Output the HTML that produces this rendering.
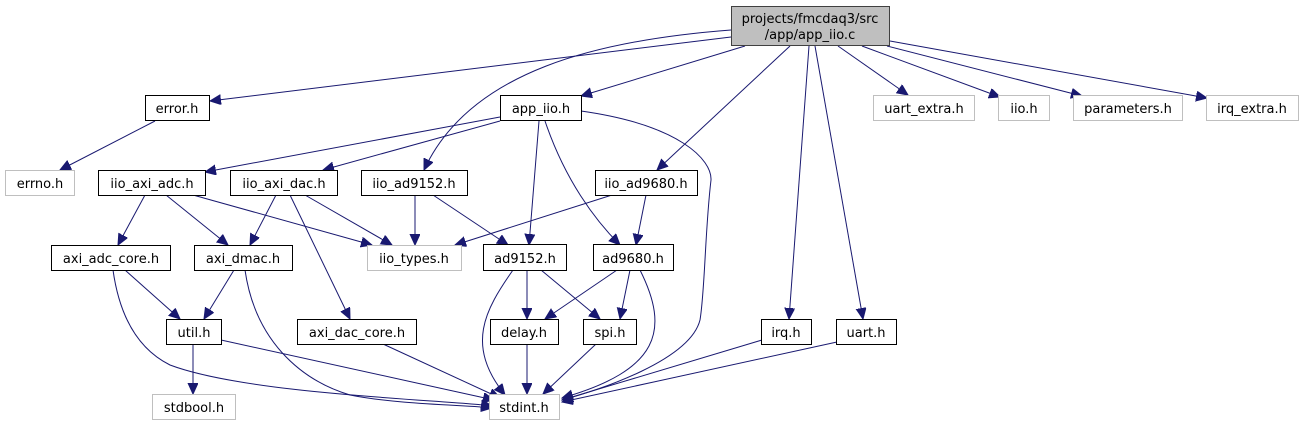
<!DOCTYPE html>
<html><head><meta charset="utf-8"><style>
html,body{margin:0;padding:0;background:#fff;}
svg{display:block;}
text{font-family:"DejaVu Sans","Liberation Sans",sans-serif;font-size:13px;text-anchor:middle;fill:#000;}
.b{fill:#fff;stroke:#000;stroke-width:1;}
.g{fill:#fff;stroke:#bfbfbf;stroke-width:1;}
.e{fill:none;stroke:#191970;stroke-width:1;}
</style></head><body>
<svg width="1305" height="425" viewBox="0 0 1305 425" xmlns="http://www.w3.org/2000/svg">
<defs>
<marker id="a" markerUnits="userSpaceOnUse" markerWidth="13" markerHeight="11" refX="11" refY="5" orient="auto">
<path d="M0,0 L11,5 L0,10 Z" fill="#191970" stroke="#191970"/>
</marker>
</defs>
<g class="e" marker-end="url(#a)">
<path d="M731,37 L210,101"/>
<path d="M731,30 C600,40 470,70 424,170"/>
<path d="M745,46 L581,96"/>
<path d="M790,46 L657,170"/>
<path d="M809,46 L789,319"/>
<path d="M815,46 L863,319"/>
<path d="M838,46 L908,95"/>
<path d="M862,46 L1000,97"/>
<path d="M887,46 L1082,96"/>
<path d="M890,41 L1207,98"/>
<path d="M155,121 L60,170"/>
<path d="M500,117 L205,172"/>
<path d="M500,121 L323,170"/>
<path d="M539,121 L529,245"/>
<path d="M545,121 C565,180 595,220 620,245"/>
<path d="M581,111 C680,125 712,160 711,180 C705,230 705,290 700,320 C690,360 600,390 562,400"/>
<path d="M145,195 L118,245"/>
<path d="M166,195 L228,245"/>
<path d="M193,195 L372,245"/>
<path d="M276,195 L250,245"/>
<path d="M290,195 L350,319"/>
<path d="M305,195 L392,245"/>
<path d="M415,195 L415,245"/>
<path d="M433,195 L508,245"/>
<path d="M612,195 L455,245"/>
<path d="M646,195 L636,245"/>
<path d="M125,270 L180,319"/>
<path d="M113,270 C120,320 140,350 170,365 C250,395 450,400 492,406"/>
<path d="M234,270 L204,319"/>
<path d="M245,270 C255,340 300,380 350,395 C400,405 470,405 492,408"/>
<path d="M193,344 L193,394"/>
<path d="M221,340 L494,400"/>
<path d="M383,344 L500,398"/>
<path d="M527,270 L527,319"/>
<path d="M541,270 L600,319"/>
<path d="M513,270 C485,310 465,345 505,395"/>
<path d="M617,270 L545,319"/>
<path d="M630,270 L620,319"/>
<path d="M640,270 C670,330 660,370 562,398"/>
<path d="M527,344 L527,394"/>
<path d="M596,344 L543,394"/>
<path d="M762,340 L562,400"/>
<path d="M837,342 L562,402"/>
</g>
<rect x="731.5" y="6.5" width="158" height="39" fill="#bfbfbf" stroke="#404040"/>
<text x="810" y="23">projects/fmcdaq3/src</text>
<text x="810" y="39">/app/app_iio.c</text>

<rect class="b" x="145.5" y="95.5" width="64" height="25"/><text x="177" y="113">error.h</text>
<rect class="b" x="500.5" y="95.5" width="81" height="25"/><text x="541" y="113">app_iio.h</text>
<rect class="g" x="873.5" y="95.5" width="101" height="25"/><text x="924" y="113">uart_extra.h</text>
<rect class="g" x="998.5" y="95.5" width="51" height="25"/><text x="1024" y="113">iio.h</text>
<rect class="g" x="1073.5" y="95.5" width="109" height="25"/><text x="1128" y="113">parameters.h</text>
<rect class="g" x="1206.5" y="95.5" width="92" height="25"/><text x="1252" y="113">irq_extra.h</text>

<rect class="g" x="5.5" y="170.5" width="69" height="25"/><text x="40" y="188">errno.h</text>
<rect class="b" x="98.5" y="170.5" width="107" height="25"/><text x="152" y="188">iio_axi_adc.h</text>
<rect class="b" x="230.5" y="170.5" width="107" height="25"/><text x="284" y="188">iio_axi_dac.h</text>
<rect class="b" x="361.5" y="170.5" width="106" height="25"/><text x="414" y="188">iio_ad9152.h</text>
<rect class="b" x="595.5" y="170.5" width="102" height="25"/><text x="646" y="188">iio_ad9680.h</text>

<rect class="b" x="51.5" y="245.5" width="119" height="25"/><text x="111" y="263">axi_adc_core.h</text>
<rect class="b" x="194.5" y="245.5" width="98" height="25"/><text x="243" y="263">axi_dmac.h</text>
<rect class="g" x="367.5" y="245.5" width="94" height="25"/><text x="414" y="263">iio_types.h</text>
<rect class="b" x="483.5" y="244.5" width="83" height="26"/><text x="525" y="263">ad9152.h</text>
<rect class="b" x="593.5" y="244.5" width="80" height="26"/><text x="633" y="263">ad9680.h</text>

<rect class="b" x="166.5" y="319.5" width="55" height="25"/><text x="194" y="337">util.h</text>
<rect class="b" x="297.5" y="319.5" width="119" height="25"/><text x="357" y="337">axi_dac_core.h</text>
<rect class="b" x="490.5" y="319.5" width="68" height="25"/><text x="524" y="337">delay.h</text>
<rect class="b" x="583.5" y="319.5" width="53" height="25"/><text x="610" y="337">spi.h</text>
<rect class="b" x="761.5" y="319.5" width="50" height="25"/><text x="786" y="337">irq.h</text>
<rect class="b" x="836.5" y="319.5" width="60" height="25"/><text x="866" y="337">uart.h</text>

<rect class="g" x="152.5" y="394.5" width="83" height="25"/><text x="194" y="412">stdbool.h</text>
<rect class="g" x="489.5" y="394.5" width="70" height="25"/><text x="524" y="412">stdint.h</text>
</svg>
</body></html>
